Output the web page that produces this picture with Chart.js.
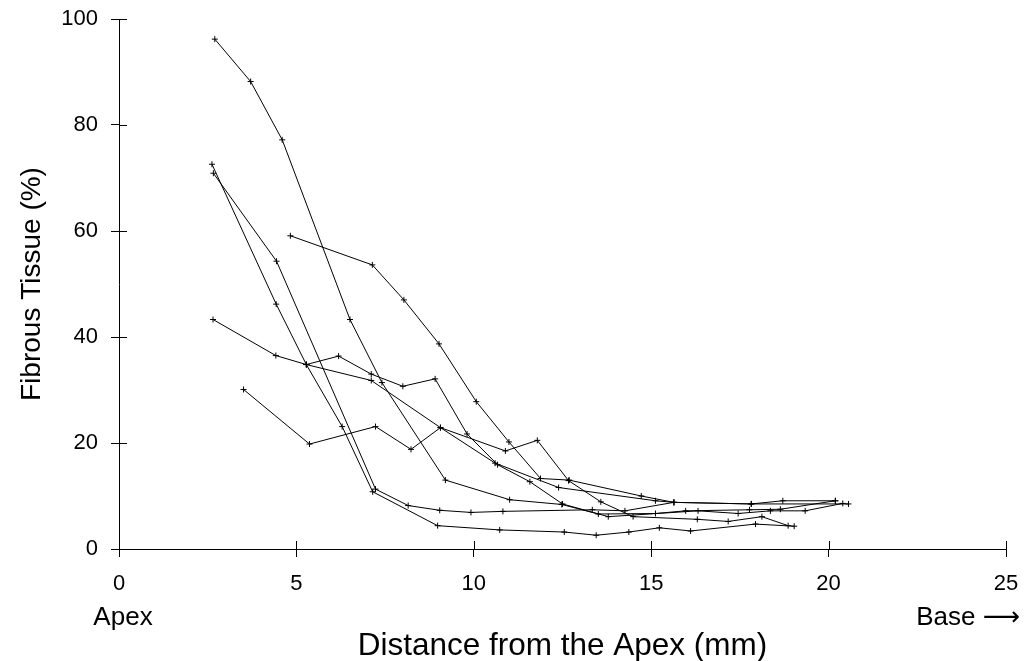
<!DOCTYPE html>
<html>
<head>
<meta charset="utf-8">
<script src="https://cdn.jsdelivr.net/npm/chart.js@4.4.1/dist/chart.umd.min.js"></script>
<style>
html,body{margin:0;padding:0;background:#fff;}
#wrap{width:1030px;height:661px;}
</style>
</head>
<body>
<div id="wrap"><canvas id="c" width="1030" height="661"></canvas></div>
<script>
// ---- data (distance from apex in mm, fibrous tissue in %) ----
const xTickValues = [0, 5, 10, 15, 20, 25];
const yTickValues = [0, 20, 40, 60, 80, 100];
const xTitle = 'Distance from the Apex (mm)';
const yTitle = 'Fibrous Tissue (%)';
const apexLabel = 'Apex';
const baseLabel = 'Base \u27F6';

const heart1X = [2.70, 3.71, 4.60, 6.51, 7.41, 9.20, 11.01, 12.48, 13.51, 15.12, 15.97, 17.77, 18.64, 20.19];
const heart1Y = [96.2, 88.2, 77.2, 43.3, 31.4, 13.0, 9.3, 8.4, 6.6, 6.7, 7.2, 7.4, 7.5, 9.1];

const heart2X = [2.62, 4.43, 5.28, 6.29, 7.15, 8.98, 10.73, 12.55, 13.45, 14.37, 15.23, 16.11, 17.94, 19.03];
const heart2Y = [72.6, 46.2, 34.8, 23.1, 10.8, 4.4, 3.6, 3.2, 2.6, 3.2, 4.0, 3.4, 4.7, 4.3];

const heart3X = [2.66, 4.44, 7.23, 8.15, 9.04, 9.92, 10.82, 13.34, 14.26, 15.64, 17.82, 18.71, 20.19];
const heart3Y = [70.9, 54.3, 11.3, 8.2, 7.3, 6.9, 7.1, 7.4, 7.2, 8.8, 8.5, 9.1, 9.1];

const heart4X = [2.65, 4.42, 5.28, 7.11, 9.06, 10.89, 11.79, 12.67, 13.58, 14.49, 16.30, 17.17, 18.12, 18.86];
const heart4Y = [43.3, 36.5, 34.8, 31.8, 22.9, 18.5, 20.5, 12.9, 8.9, 6.1, 5.6, 5.2, 6.1, 4.4];

const heart5X = [4.83, 7.14, 8.03, 9.02, 10.07, 10.99, 11.88, 12.69, 14.72, 15.64, 17.82, 20.56];
const heart5Y = [59.1, 53.6, 47.0, 38.7, 27.8, 20.2, 13.3, 13.0, 10.0, 8.8, 8.5, 8.5];

const heart6X = [3.51, 5.37, 7.23, 8.23, 9.06, 10.60, 12.39, 15.12, 15.64];
const heart6Y = [30.1, 19.8, 23.1, 18.8, 22.9, 16.2, 11.6, 9.1, 8.8];

const heart7X = [5.28, 6.19, 7.11, 8.00, 8.91, 9.81, 10.67, 11.58, 12.50, 13.79, 16.32, 17.45, 18.36, 19.34, 20.40];
const heart7Y = [34.8, 36.4, 33.0, 30.7, 32.1, 21.7, 15.9, 12.7, 8.5, 6.1, 7.2, 6.7, 7.2, 7.2, 8.6];

const seriesX = [heart1X, heart2X, heart3X, heart4X, heart5X, heart6X, heart7X];
const seriesY = [heart1Y, heart2Y, heart3Y, heart4Y, heart5Y, heart6Y, heart7Y];

// ---- chart ----
const FONT = "'Liberation Sans', Arial, sans-serif";

const datasets = seriesX.map((xs, k) => ({
  label: 'Heart ' + (k + 1),
  data: xs.map((x, i) => ({x: x, y: seriesY[k][i]})),
  showLine: true,
  borderColor: '#000',
  borderWidth: 1,
  pointStyle: 'cross',
  pointRadius: 3,
  pointHoverRadius: 3,
  pointBorderColor: '#000',
  pointBorderWidth: 1,
  pointBackgroundColor: '#000',
  tension: 0,
  fill: false
}));

const innerTicks = {
  id: 'innerTicks',
  afterDraw(chart) {
    const {ctx, chartArea, scales} = chart;
    ctx.save();
    ctx.strokeStyle = '#000';
    ctx.lineWidth = 1;
    ctx.beginPath();
    xTickValues.forEach(v => {
      const px = Math.round(scales.x.getPixelForValue(v)) + 0.5;
      ctx.moveTo(px, chartArea.bottom);
      ctx.lineTo(px, chartArea.bottom - 8);
    });
    yTickValues.forEach(v => {
      const py = Math.round(scales.y.getPixelForValue(v)) + 0.5;
      ctx.moveTo(chartArea.left, py);
      ctx.lineTo(chartArea.left + 8, py);
    });
    ctx.stroke();
    // end labels
    ctx.fillStyle = '#000';
    ctx.font = '26px ' + FONT;
    ctx.textBaseline = 'middle';
    ctx.textAlign = 'center';
    ctx.fillText(apexLabel, scales.x.getPixelForValue(0) + 4, 618);
    ctx.textAlign = 'right';
    ctx.font = "26px 'Liberation Sans', 'DejaVu Sans', sans-serif";
    ctx.fillText(baseLabel, scales.x.getPixelForValue(25) + 14, 618);
    ctx.restore();
  }
};

new Chart(document.getElementById('c'), {
  type: 'scatter',
  data: {datasets: datasets},
  options: {
    responsive: false,
    animation: false,
    layout: {padding: {top: 19, right: 24, bottom: 0, left: 0}},
    plugins: {legend: {display: false}, tooltip: {enabled: false}},
    scales: {
      x: {
        type: 'linear', min: 0, max: 25,
        afterBuildTicks: s => { s.ticks = xTickValues.map(v => ({value: v})); },
        afterFit: s => { s.height = 112; s.paddingLeft = 0; s.paddingRight = 0; s.paddingTop = 0; s.paddingBottom = 0; },
        ticks: {color: '#000', font: {family: FONT, size: 22}, padding: 14, maxRotation: 0},
        grid: {drawOnChartArea: false, drawTicks: true, tickLength: 8, color: '#000', lineWidth: 1},
        border: {display: true, color: '#000', width: 1},
        title: {display: true, text: xTitle, color: '#000', font: {family: FONT, size: 31.5}, padding: {top: 0, bottom: -4}}
      },
      y: {
        type: 'linear', min: 0, max: 100,
        afterBuildTicks: s => { s.ticks = yTickValues.map(v => ({value: v})); },
        afterFit: s => { s.width = 119; s.paddingLeft = 0; s.paddingRight = 0; s.paddingTop = 0; s.paddingBottom = 0; },
        ticks: {color: '#000', font: {family: FONT, size: 22}, padding: 13},
        grid: {drawOnChartArea: false, drawTicks: true, tickLength: 8, color: '#000', lineWidth: 1},
        border: {display: true, color: '#000', width: 1},
        title: {display: true, text: yTitle, color: '#000', font: {family: FONT, size: 28}, padding: {top: 15, bottom: 0}}
      }
    }
  },
  plugins: [innerTicks]
});
</script>
</body>
</html>
